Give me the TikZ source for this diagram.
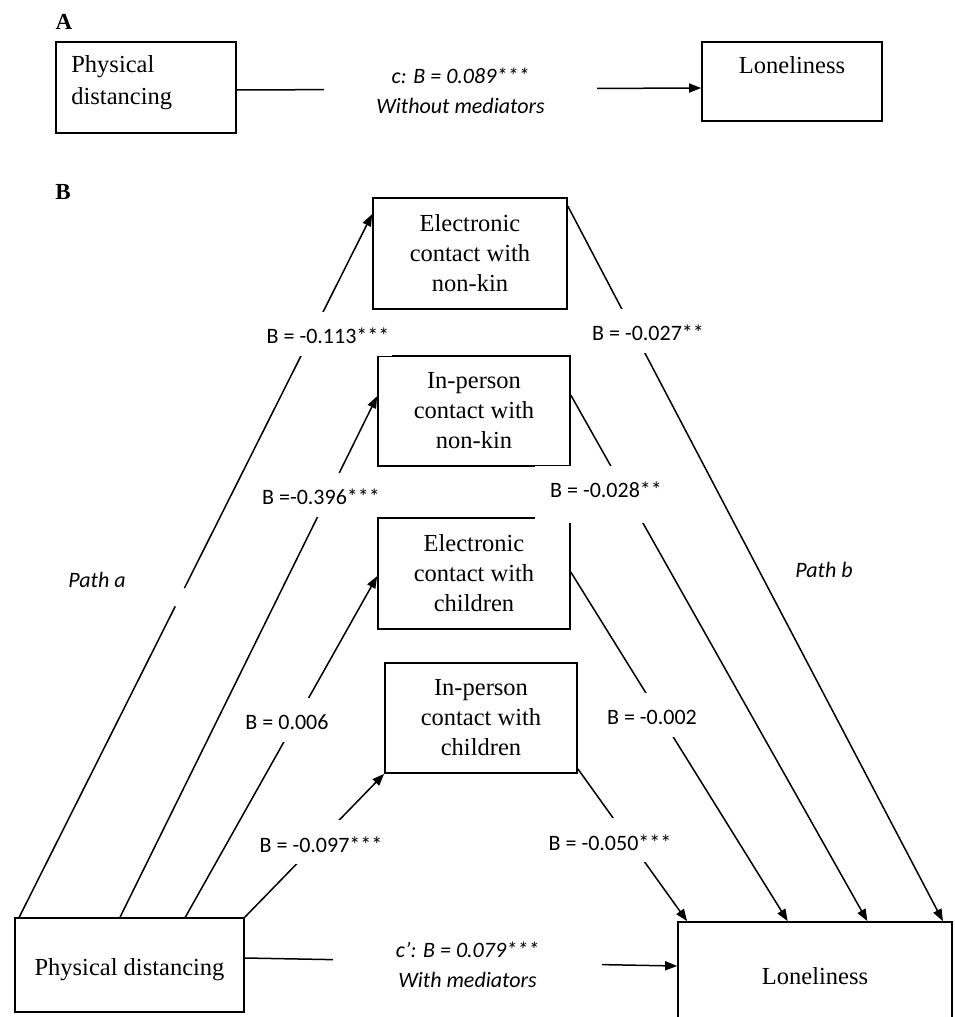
\documentclass[tikz,border=0pt]{standalone}
\usepackage{fontspec}
\usepackage{tikz}
\usetikzlibrary{arrows.meta,calc,positioning}
\newfontfamily\boxfont{Liberation Serif}
\newfontfamily\labfont{Carlito}

\begin{document}
\begin{tikzpicture}[x=1pt,y=-1pt,
  box/.style={draw,line width=1.7pt,inner sep=0pt,align=center,
              minimum width=192pt,minimum height=110pt,
              font=\boxfont\fontsize{24.5}{30}\selectfont},
  boxtxt/.style={inner sep=0pt,align=left,
              font=\boxfont\fontsize{24.5}{32}\selectfont},
  arr/.style={-{Triangle[length=12pt,width=9pt]},line width=1.5pt},
  ln/.style={line width=1.5pt},
  lab/.style={fill=white,inner xsep=3pt,inner ysep=12pt,text height=20pt,
              text depth=0pt,font=\labfont\fontsize{22}{26}\selectfont},
  eff/.style={fill=white,align=center,inner sep=0pt,minimum height=62pt,
              font=\labfont\itshape\fontsize{22}{30}\selectfont},
  pathlab/.style={font=\labfont\itshape\fontsize{22}{26}\selectfont},
  head/.style={font=\boxfont\bfseries\fontsize{23}{28}\selectfont}]
  \useasboundingbox (0,0) rectangle (955,1017);
  \clip (0,0) rectangle (955,1017);

  % panel A
  \node[head] (hA) at (64,22) {A};
  \node[box,minimum width=180pt,minimum height=91pt] (pdA) at (146,87.5) {};
  \node[boxtxt,anchor=north west] (pdAtxt) at ($(pdA.north west)+(16,14)$)
    {Physical\\distancing};
  \node[box,minimum width=180pt,minimum height=79pt] (lonA) at (792,81.5) {};
  \node[boxtxt,anchor=north] (lonAtxt) at ($(lonA.north)+(0,15)$) {Loneliness};
  \draw[arr] ($(pdA.east)+(0,2.5)$) -- ($(lonA.west)+(0,6.5)$);
  \node[eff,minimum width=273pt] (cA) at (460.5,91)
    {c: B = 0.089***\\Without mediators};

  % panel B
  \node[head] (hB) at (63,192) {B};
  \node[box,minimum width=194pt,minimum height=111pt] (enk) at (470,253.5)
    {Electronic\\contact with\\non-kin};
  \node[box] (ipnk) at (474,411) {In-person\\contact with\\non-kin};
  \node[box,minimum height=111pt] (ec) at (474,573.5)
    {Electronic\\contact with\\children};
  \node[box] (ipc) at (481,718) {In-person\\contact with\\children};
  \node[box,minimum width=229pt,minimum height=94pt,text height=27pt] (pdB)
    at (129.5,965) {Physical distancing};
  \node[box,minimum width=274pt,minimum height=108pt] (lonB) at (815,976)
    {Loneliness};

  % ends of the paths
  \coordinate (sA1) at ($(pdB.north west)!0.022!(pdB.north east)$);
  \coordinate (sA2) at ($(pdB.north west)!0.459!(pdB.north east)$);
  \coordinate (sA3) at ($(pdB.north west)!0.742!(pdB.north east)$);
  \coordinate (sA4) at (pdB.north east);
  \coordinate (eA1) at ($(enk.north west)+(0,17)$);
  \coordinate (eA2) at ($(ipnk.north west)+(0,41)$);
  \coordinate (eA3) at ($(ec.north west)+(0,59)$);
  \coordinate (eA4) at (ipc.south west);
  \coordinate (sB1) at ($(enk.north east)+(0,9)$);
  \coordinate (sB2) at ($(ipnk.north east)+(0,40)$);
  \coordinate (sB3) at ($(ec.north east)+(0,55)$);
  \coordinate (sB4) at ($(ipc.south east)+(0,-5)$);
  \coordinate (eB1) at ($(lonB.north west)!0.964!(lonB.north east)$);
  \coordinate (eB2) at ($(lonB.north west)!0.690!(lonB.north east)$);
  \coordinate (eB3) at ($(lonB.north west)!0.401!(lonB.north east)$);
  \coordinate (eB4) at ($(lonB.north west)!0.036!(lonB.north east)$);

  % path a
  \draw[ln] (sA1) -- ($(sA1)!0.442!(eA1)$);
  \draw[arr] ($(sA1)!0.468!(eA1)$) -- (eA1);
  \draw[arr] (sA2) -- (eA2);
  \draw[arr] (sA3) -- (eA3);
  \draw[arr] (sA4) -- (eA4);
  % path b
  \draw[arr] (sB1) -- (eB1);
  \draw[arr] (sB2) -- (eB2);
  \draw[arr] (sB3) -- (eB3);
  \draw[arr] (sB4) -- (eB4);
  % direct effect
  \draw[arr] ($(pdB.east)+(0,-7)$) -- ($(lonB.west)+(0,-10)$);

  % coefficients
  \node[lab] (a1) at (328,333.5) {B = -0.113***};
  \node[lab] (a2) at (321,494.5) {B =-0.396***};
  \node[lab] (a3) at (287,719.5) {B = 0.006};
  \node[lab] (a4) at (321,842) {B = -0.097***};
  \node[lab] (b1) at (648,330.5) {B = -0.027**};
  \node[lab,inner xsep=15pt,inner ysep=17pt,text height=14pt,text depth=9pt]
    (b2) at (606,494.5) {B = -0.028**};
  \node[lab] (b3) at (652,714.5) {B = -0.002};
  \node[lab] (b4) at (610,840) {B = -0.050***};
  \node[eff,minimum width=269pt] (cB) at (467.5,964.5)
    {c’: B = 0.079***\\With mediators};
  \node[pathlab] (pa) at (97,580) {Path a};
  \node[pathlab] (pb) at (824,570) {Path b};
\end{tikzpicture}
\end{document}
